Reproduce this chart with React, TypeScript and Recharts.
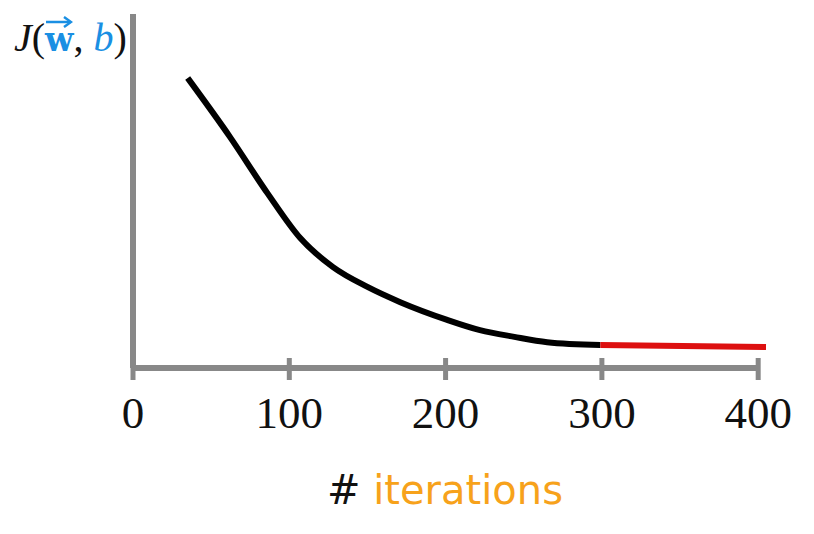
import React from "react";
import { LineChart, Line, XAxis, YAxis, ReferenceLine } from "recharts";

// descending cost curve (black) and flat tail (red)
const costIterations = [35, 62, 86, 107, 128, 150, 171, 201, 222, 244, 265, 299];
const costValues = [8.19, 6.53, 4.94, 3.67, 2.85, 2.29, 1.86, 1.36, 1.07, 0.88, 0.73, 0.65];
const tailIterations = [299, 405];
const tailValues = [0.65, 0.59];
const xTicks = [0, 100, 200, 300, 400];

const costData = costIterations.map((it, i) => ({ it, cost: costValues[i] }));
const tailData = tailIterations.map((it, i) => ({ it, cost: tailValues[i] }));

const AXIS = "#888888";

const Tick = (props: any) => {
  const { x, y, payload } = props;
  return (
    <g>
      <line x1={x} x2={x} y1={y - 10} y2={y + 12} stroke={AXIS} strokeWidth={5} />
      <text
        x={x}
        y={y + 60}
        textAnchor="middle"
        fontSize={45}
        fontFamily="'Liberation Serif', serif"
        fill="#111"
      >
        {payload.value}
      </text>
    </g>
  );
};

export default function App() {
  return (
    <div style={{ position: "absolute", left: 0, top: 0, width: 814, height: 534, background: "#fff" }}>
      <LineChart
        width={814}
        height={534}
        margin={{ top: 14, right: 48, bottom: 106, left: 123 }}
      >
        <XAxis
          type="number"
          dataKey="it"
          domain={[0, 405]}
          ticks={xTicks}
          interval={0}
          axisLine={false}
          tickLine={false}
          tickSize={0}
          tickMargin={0}
          height={60}
          tick={<Tick />}
          allowDuplicatedCategory={false}
        />
        <YAxis
          type="number"
          domain={[0, 10]}
          width={10}
          tick={false}
          tickLine={false}
          axisLine={{ stroke: AXIS, strokeWidth: 6 }}
        />
        <ReferenceLine
          segment={[
            { x: 0, y: 0 },
            { x: 401, y: 0 },
          ]}
          stroke={AXIS}
          strokeWidth={6}
        />
        <Line
          data={costData}
          dataKey="cost"
          type="monotone"
          stroke="#000"
          strokeWidth={6}
          dot={false}
          isAnimationActive={false}
        />
        <Line
          data={tailData}
          dataKey="cost"
          type="linear"
          stroke="#dd1010"
          strokeWidth={6}
          dot={false}
          isAnimationActive={false}
        />
      </LineChart>
      <div
        style={{
          position: "absolute",
          left: 14,
          top: 14,
          fontFamily: "'Liberation Serif', serif",
          fontSize: 40,
          lineHeight: "48px",
          whiteSpace: "nowrap",
          color: "#111",
        }}
      >
        <span style={{ fontStyle: "italic" }}>J</span>
        <span>(</span>
        <span style={{ position: "relative", display: "inline-block", color: "#1a8fe3", fontWeight: "bold", fontFamily: "'DejaVu Serif', serif", fontSize: 33 }}>
          w
          <svg
            width={28}
            height={12}
            style={{ position: "absolute", left: 0, top: 0 }}
            viewBox="0 0 28 12"
          >
            <line x1={1} y1={6} x2={25} y2={6} stroke="#1a8fe3" strokeWidth={2.5} />
            <polyline points="19,1 26,6 19,11" fill="none" stroke="#1a8fe3" strokeWidth={2.5} />
          </svg>
        </span>
        <span>,</span>
        <span style={{ fontStyle: "italic", color: "#1a8fe3" }}> b</span>
        <span>)</span>
      </div>
      <div
        style={{
          position: "absolute",
          left: 0,
          width: 890,
          top: 467,
          textAlign: "center",
          fontFamily: "'DejaVu Sans', sans-serif",
          fontSize: 40,
          whiteSpace: "nowrap",
        }}
      >
        <span style={{ color: "#111" }}>#</span>
        <span style={{ color: "#f7a21b" }}> iterations</span>
      </div>
    </div>
  );
}
